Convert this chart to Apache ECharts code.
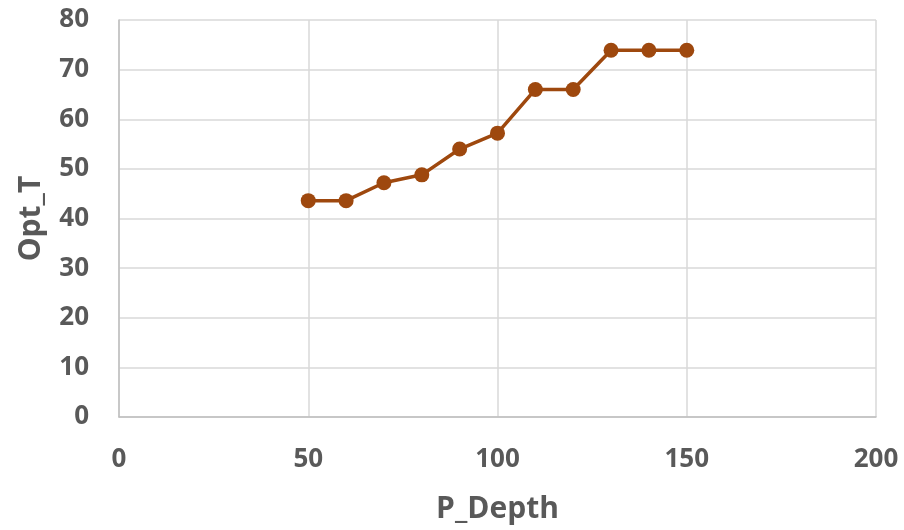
<!DOCTYPE html>
<html>
<head>
<meta charset="utf-8">
<script src="https://cdn.jsdelivr.net/npm/echarts@6/dist/echarts.min.js"></script>
<style>
  html, body { margin: 0; padding: 0; background: #fff; }
  #main { width: 904px; height: 530px; }
</style>
</head>
<body>
<div id="main"></div>
<script>
// data
var depth = [50, 60, 70, 80, 90, 100, 110, 120, 130, 140, 150];
var optT = [43.6, 43.6, 47.2, 48.8, 54.0, 57.2, 66.0, 66.0, 73.9, 73.9, 73.9];

var points = [];
for (var i = 0; i < depth.length; i++) {
    points.push([depth[i], optT[i]]);
}

var chart = echarts.init(document.getElementById('main'));
var labelFont = {
    color: '#595959',
    fontSize: 26,
    fontWeight: 'bold',
    fontFamily: 'Open Sans'
};
var option = {
    animation: false,
    grid: { left: 119, right: 28, top: 20, bottom: 113, outerBoundsMode: 'none', containLabel: false },
    xAxis: {
        type: 'value',
        min: 0, max: 200, interval: 50,
        name: 'P_Depth',
        nameLocation: 'middle',
        nameGap: 77,
        nameTextStyle: { color: '#595959', fontSize: 30, fontWeight: 'bold', fontFamily: 'Open Sans' },
        axisLine: { show: true, lineStyle: { color: '#BFBFBF', width: 1.5 } },
        axisTick: { show: false },
        axisLabel: Object.assign({ margin: 30 }, labelFont),
        splitLine: { show: true, lineStyle: { color: '#D9D9D9', width: 1.5 } }
    },
    yAxis: {
        type: 'value',
        min: 0, max: 80, interval: 10,
        name: 'Opt_T',
        nameLocation: 'middle',
        nameGap: 73,
        nameTextStyle: { color: '#595959', fontSize: 30, fontWeight: 'bold', fontFamily: 'Open Sans' },
        axisLine: { show: true, lineStyle: { color: '#BFBFBF', width: 1.5 } },
        axisTick: { show: false },
        axisLabel: Object.assign({ margin: 30 }, labelFont),
        splitLine: { show: true, lineStyle: { color: '#D9D9D9', width: 1.5 } }
    },
    series: [{
        type: 'line',
        data: points,
        symbol: 'circle',
        symbolSize: 15,
        lineStyle: { color: '#9E480E', width: 3.5 },
        itemStyle: { color: '#9E480E' }
    }]
};
chart.setOption(option);
</script>
</body>
</html>
